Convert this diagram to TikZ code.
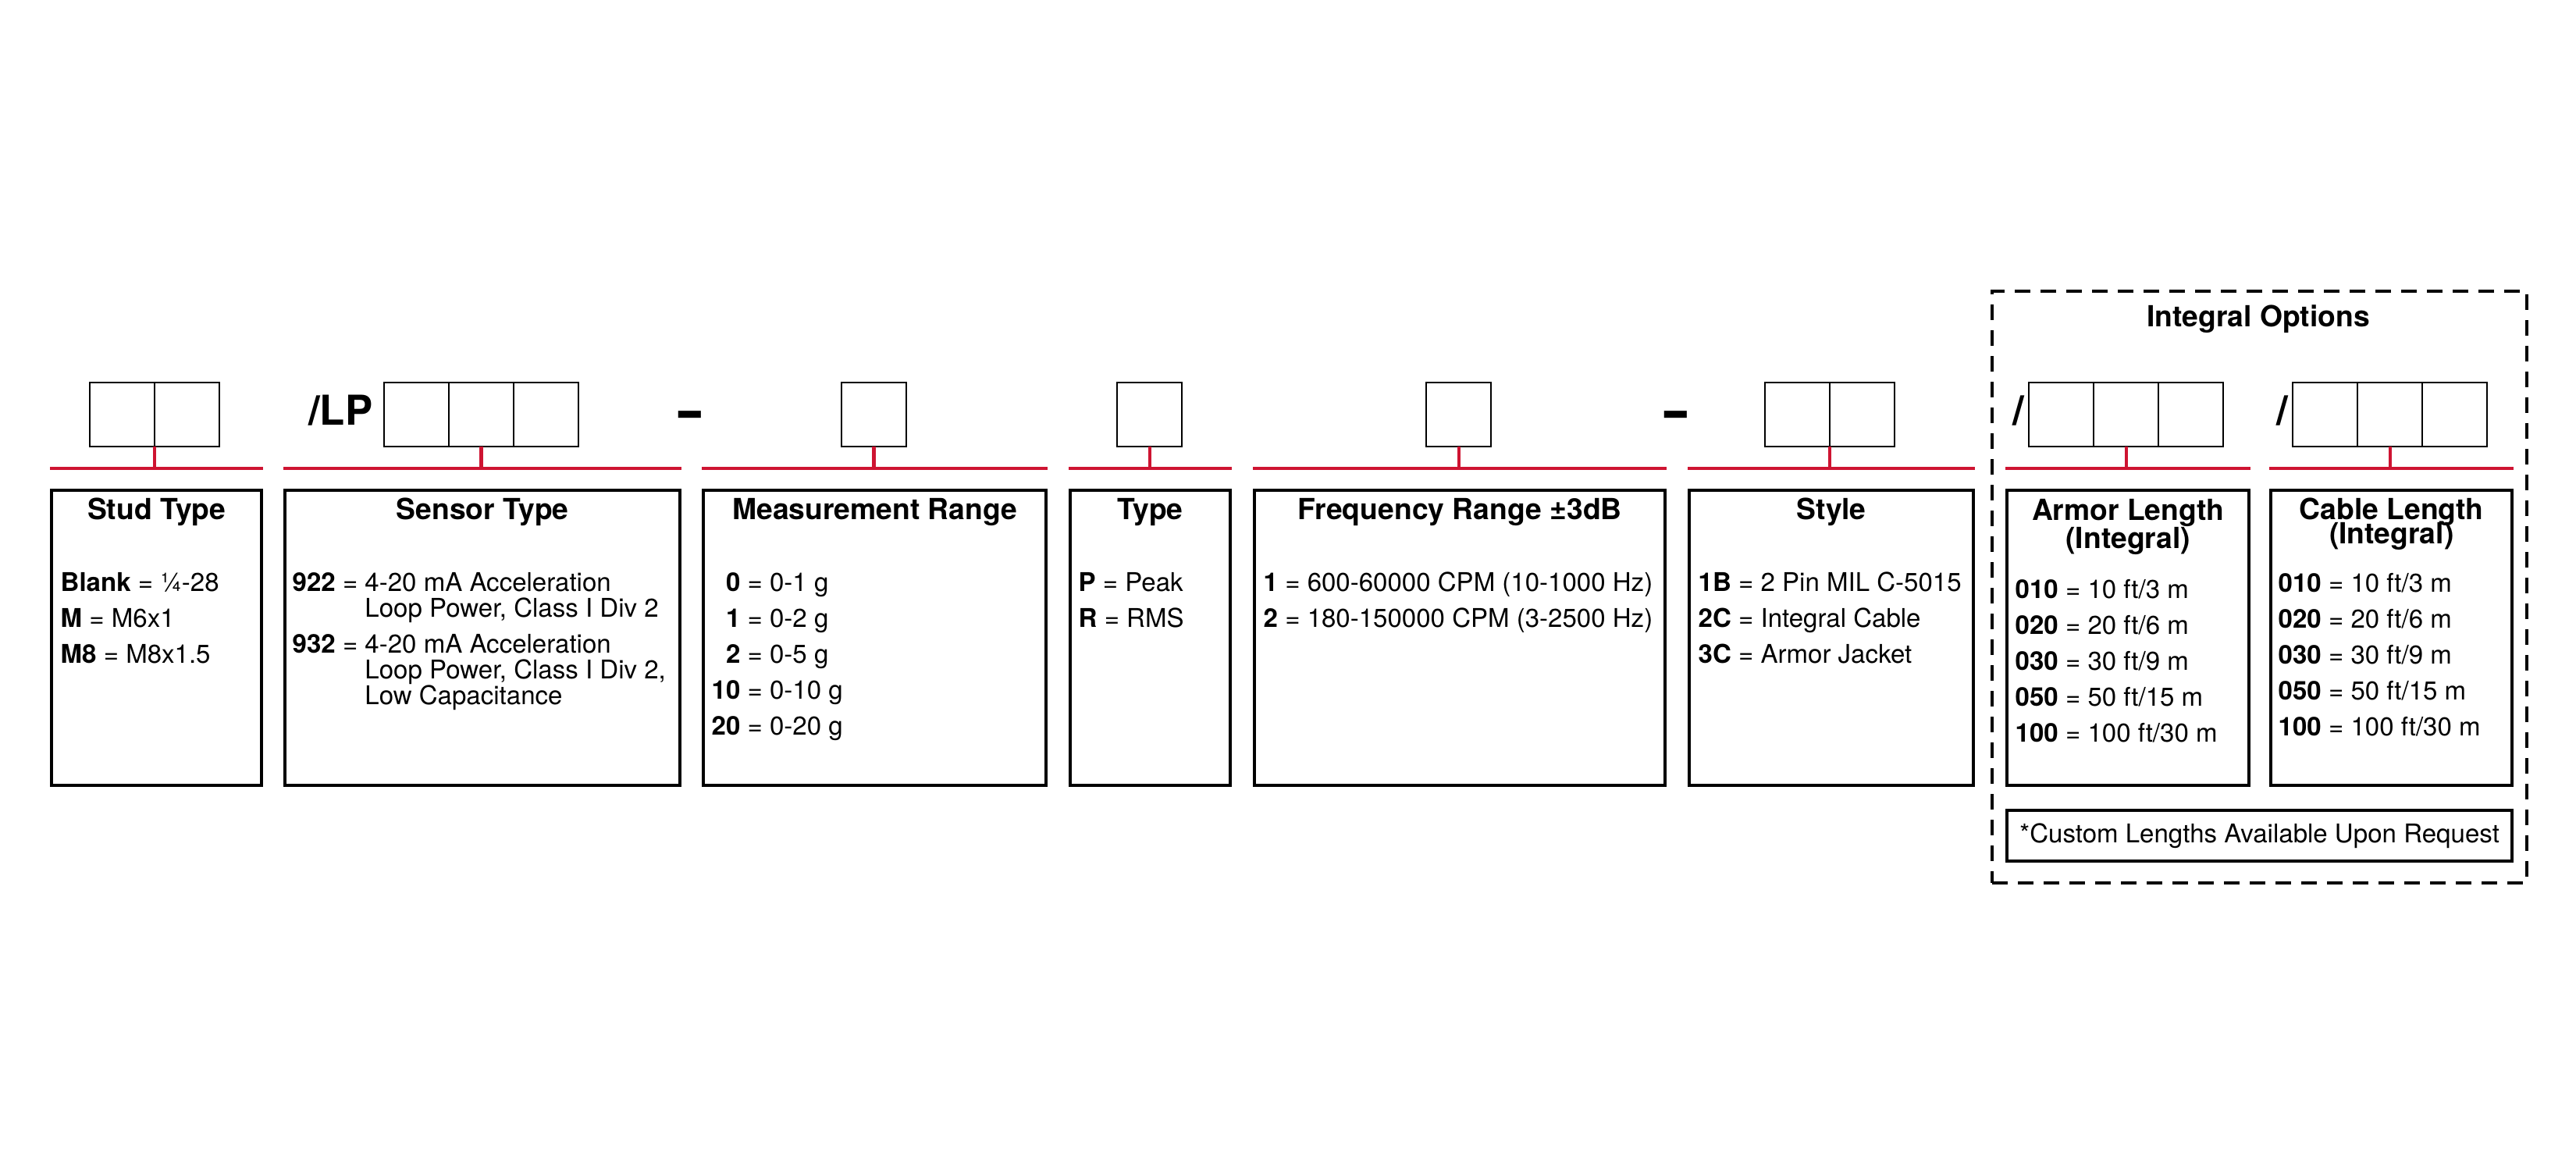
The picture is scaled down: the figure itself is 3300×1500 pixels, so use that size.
\documentclass[tikz,border=0pt]{standalone}
\usepackage{fontspec}
\setmainfont{TeX Gyre Heros}
\usepackage{xcolor}
\usepackage{graphicx}
\usepackage{tikz}
\usetikzlibrary{positioning}
\definecolor{buscolor}{RGB}{206,20,50}

\begin{document}
\begin{tikzpicture}[x=0.1mm, y=-0.1mm,
    digitcell/.style={draw, line width=0.55pt, minimum width=8.3mm, minimum height=8.2mm, inner sep=0pt, outer sep=0pt, anchor=north west},
    optbox/.style={draw, line width=1.25pt, minimum height=37.8mm, inner sep=0pt, anchor=north west},
    boxhead/.style={font=\fontsize{10.6}{12}\selectfont\bfseries, inner sep=0pt, anchor=base},
    boxentry/.style={font=\fontsize{9.4}{11}\selectfont, inner sep=0pt, anchor=base west},
    codeprefix/.style={font=\fontsize{15}{17}\selectfont\bfseries, inner sep=0pt, anchor=base east},
    dashmark/.style={font=\fontsize{19}{20}\selectfont\bfseries, inner sep=0pt, anchor=base},
    busline/.style={buscolor, line width=1.15pt},
    bustick/.style={buscolor, line width=1.15pt}]
\useasboundingbox (0,0) rectangle (3300,1500);

% option boxes
\node[optbox, minimum width=26.9mm] (stud) at (64,626) {};
\node[optbox, minimum width=50.6mm] (sensor) at (363,626) {};
\node[optbox, minimum width=43.9mm] (range) at (899,626) {};
\node[optbox, minimum width=20.5mm] (type) at (1369,626) {};
\node[optbox, minimum width=52.6mm] (freq) at (1605,626) {};
\node[optbox, minimum width=36.4mm] (style) at (2162,626) {};
\node[optbox, minimum width=31.0mm] (armor) at (2569,626) {};
\node[optbox, minimum width=30.9mm] (cable) at (2907,626) {};

% red bus lines
\foreach \b in {stud,sensor,range,type,freq,style,armor,cable} {
    \coordinate (\b bus) at ([yshift=2.6mm]\b.north);
    \draw[busline] ([yshift=2.6mm]\b.north west) -- ([yshift=2.6mm]\b.north east);
}

% digit cells
\node[digitcell] (stud1) at (115,490) {};
\node[digitcell, right=0pt of stud1] (stud2) {};
\node[digitcell] (sensor1) at (492,490) {};
\node[digitcell, right=0pt of sensor1] (sensor2) {};
\node[digitcell, right=0pt of sensor2] (sensor3) {};
\node[digitcell] (range1) at (1078,490) {};
\node[digitcell] (type1) at (1431,490) {};
\node[digitcell] (freq1) at (1827,490) {};
\node[digitcell] (style1) at (2261,490) {};
\node[digitcell, right=0pt of style1] (style2) {};
\node[digitcell] (armor1) at (2599,490) {};
\node[digitcell, right=0pt of armor1] (armor2) {};
\node[digitcell, right=0pt of armor2] (armor3) {};
\node[digitcell] (cable1) at (2937,490) {};
\node[digitcell, right=0pt of cable1] (cable2) {};
\node[digitcell, right=0pt of cable2] (cable3) {};

\draw[bustick] (stud1.south east) -- (stud1.south east |- studbus);
\draw[bustick] (sensor2.south) -- (sensor2.south |- sensorbus);
\draw[bustick] (range1.south) -- (range1.south |- rangebus);
\draw[bustick] (type1.south) -- (type1.south |- typebus);
\draw[bustick] (freq1.south) -- (freq1.south |- freqbus);
\draw[bustick] (style1.south east) -- (style1.south east |- stylebus);
\draw[bustick] (armor2.south) -- (armor2.south |- armorbus);
\draw[bustick] (cable2.south) -- (cable2.south |- cablebus);

% prefixes and separators
\node[codeprefix] (lp) at (478,544) {/LP};
\node[codeprefix] (armorslash) at (2594,544) {/};
\node[codeprefix] (cableslash) at (2932,544) {/};
\node[dashmark] (dash1) at (884,549) {\scalebox{1.6}[1]{-}};
\node[dashmark] (dash2) at (2147,549) {\scalebox{1.6}[1]{-}};

% titles
\node[boxhead] (studhead) at ([yshift=-3.9mm]stud.north) {Stud Type};
\node[boxhead] (sensorhead) at ([yshift=-3.9mm]sensor.north) {Sensor Type};
\node[boxhead] (rangehead) at ([yshift=-3.9mm]range.north) {Measurement Range};
\node[boxhead] (typehead) at ([yshift=-3.9mm]type.north) {Type};
\node[boxhead] (freqhead) at ([yshift=-3.9mm]freq.north) {Frequency Range ±3dB};
\node[boxhead] (stylehead) at ([yshift=-3.9mm]style.north) {Style};
\node[boxhead] (armorhead) at ([yshift=-4.0mm]armor.north) {Armor Length};
\node[boxhead] (armorsub) at ([yshift=-7.6mm]armor.north) {(Integral)};
\node[boxhead] (cablehead) at ([yshift=-3.9mm]cable.north) {Cable Length};
\node[boxhead] (cablesub) at ([yshift=-7.0mm]cable.north) {(Integral)};

% entries
\foreach \code/\val [count=\i from 0] in {Blank/¼-28, M/M6x1, M8/M8x1.5}
    \node[boxentry] (stud-e\i) at (77,757+46*\i) {\textbf{\code} = \val};
\node[boxentry] (sensor-e0) at (374,757) {\textbf{922} = 4-20 mA Acceleration};
\node[boxentry] (sensor-e1) at (374,790) {\phantom{\textbf{922} = }Loop Power, Class I Div 2};
\node[boxentry] (sensor-e2) at (374,836) {\textbf{932} = 4-20 mA Acceleration};
\node[boxentry] (sensor-e3) at (374,869) {\phantom{\textbf{932} = }Loop Power, Class I Div 2,};
\node[boxentry] (sensor-e4) at (374,902) {\phantom{\textbf{932} = }Low Capacitance};
\foreach \code/\val [count=\i from 0] in {\phantom{0}0/0-1 g, \phantom{0}1/0-2 g, \phantom{0}2/0-5 g, 10/0-10 g, 20/0-20 g}
    \node[boxentry] (range-e\i) at (911,757+46*\i) {\textbf{\code} = \val};
\foreach \code/\val [count=\i from 0] in {P/Peak, R/RMS}
    \node[boxentry] (type-e\i) at (1381,757+46*\i) {\textbf{\code} = \val};
\foreach \code/\val [count=\i from 0] in {1/600-60000 CPM (10-1000 Hz), 2/180-150000 CPM (3-2500 Hz)}
    \node[boxentry] (freq-e\i) at (1618,757+46*\i) {\textbf{\code} = \val};
\foreach \code/\val [count=\i from 0] in {1B/2 Pin MIL C-5015, 2C/Integral Cable, 3C/Armor Jacket}
    \node[boxentry] (style-e\i) at (2175,757+46*\i) {\textbf{\code} = \val};
\foreach \code/\val [count=\i from 0] in {010/{10 ft/3 m}, 020/{20 ft/6 m}, 030/{30 ft/9 m}, 050/{50 ft/15 m}, 100/{100 ft/30 m}} {
    \node[boxentry] (armor-e\i) at (2581,766+46*\i) {\textbf{\code} = \val};
    \node[boxentry] (cable-e\i) at (2918,758+46*\i) {\textbf{\code} = \val};
}

% integral options frame
\node[draw, dash pattern=on 2mm off 1.3mm, line width=1.15pt, minimum width=68.5mm, minimum height=75.8mm, inner sep=0pt, anchor=north west] (integral) at (2550,371) {};
\node[boxhead] (integralhead) at (2893,418) {Integral Options};
\node[draw, line width=1.25pt, minimum width=64.7mm, minimum height=6.5mm, inner sep=0pt, anchor=north west, font=\fontsize{9.4}{11}\selectfont] (custom) at (2569,1036) {*Custom Lengths Available Upon Request};
\end{tikzpicture}
\end{document}
